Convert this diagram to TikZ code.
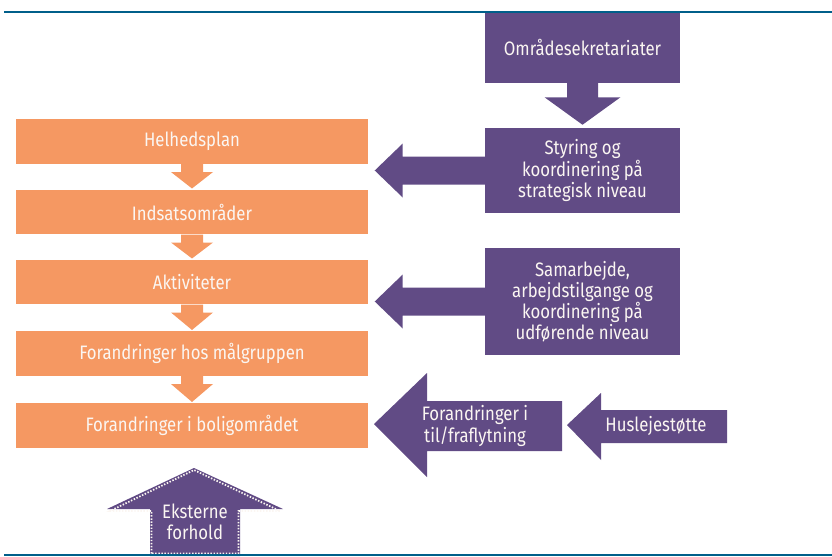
\documentclass[tikz,border=0pt]{standalone}
\usepackage{fontspec}
\setmainfont{Fira Sans}[FakeStretch=0.86]
\usetikzlibrary{calc}
\definecolor{org}{HTML}{F59862}
\definecolor{pur}{HTML}{614B85}
\definecolor{lineblue}{HTML}{005F8A}
\definecolor{txt}{HTML}{FBF6F2}
\newcommand\dnarr[6]{% from, to, stem half, head half, stem length, colour
  \fill[#6] ($(#1.south)+(-#3,0)$) -- ($(#1.south)+(-#3,#5)$) -- ($(#1.south)+(-#4,#5)$)
    -- ($(#2.north)+(0,-1)$) -- ($(#1.south)+(#4,#5)$) -- ($(#1.south)+(#3,#5)$)
    -- ($(#1.south)+(#3,0)$) -- cycle;}
\newcommand\ltarr[1]{% purple arrow leaving a box to the left
  \fill[pur] ($(#1.west)+(0.5,-14)$) -- ($(#1.west)+(-82,-14)$) -- ($(#1.west)+(-82,-27)$)
    -- ($(#1.west)+(-110,0)$) -- ($(#1.west)+(-82,27)$) -- ($(#1.west)+(-82,14)$)
    -- ($(#1.west)+(0.5,14)$) -- cycle;}
\begin{document}
\begin{tikzpicture}[x=0.75pt,y=-0.75pt,
  lbl/.style={text=txt, align=center, inner sep=0pt,
    font=\fontsize{14.6}{15.8}\selectfont},
  obox/.style={lbl, fill=org, minimum width=264pt, minimum height=33.4pt},
  pbox/.style={lbl, fill=pur, minimum width=146.25pt},
  rule/.style={draw=lineblue, line width=1.6pt},
  dots/.style={draw=txt, line width=1.3pt, dash pattern=on 1.1pt off 1.2pt}]
\useasboundingbox (0,0) rectangle (832,557);

% orange chain
\node[obox] (helhed) at (192,141.5) {Helhedsplan};
\node[obox] (indsats) at (192,212) {Indsatsområder};
\node[obox] (aktiv) at (192,282) {Aktiviteter};
\node[obox] (maal) at (192,353.5) {Forandringer hos målgruppen};
\node[obox] (bolig) at (192,425.5) {Forandringer i boligområdet};
\dnarr{helhed}{indsats}{11}{21}{8}{org}
\dnarr{indsats}{aktiv}{11}{21}{8}{org}
\dnarr{aktiv}{maal}{11}{21}{8}{org}
\dnarr{maal}{bolig}{11}{21}{8}{org}

% purple boxes
\node[pbox, minimum height=53.25pt] (omr) at (582.5,47.5) {Områdesekretariater};
\node[pbox, minimum height=63.75pt] (styr) at (582.5,170.5) {Styring og\\koordinering på\\strategisk niveau};
\node[pbox, minimum height=80.25pt] (samar) at (582.5,301.5) {Samarbejde,\\arbejdstilgange og\\koordinering på\\udførende niveau};
\fill[pur] ($(omr.south)+(-15.5,-0.5)$) -- ($(omr.south)+(-15.5,14)$) -- ($(omr.south)+(-38,14)$)
  -- ($(styr.north)+(0,-3)$) -- ($(omr.south)+(38,14)$) -- ($(omr.south)+(15.5,14)$)
  -- ($(omr.south)+(15.5,-0.5)$) -- cycle;
\ltarr{styr}
\ltarr{samar}

% flow arrows at the bottom right
\fill[pur] (562,401) -- (427,401) -- (427,373) -- (374,424) -- (427,477) -- (427,451) -- (562,451) -- cycle;
\node[lbl] (flyt) at (475,426) {Forandringer i\\til/fraflytning};
\fill[pur] (727,410) -- (601,410) -- (601,393) -- (567,425) -- (601,460) -- (601,443) -- (727,443) -- cycle;
\node[lbl] (husl) at (656,426) {Huslejestøtte};

% external conditions
\fill[pur] (150,556) -- (150,509) -- (107,509) -- (194,468) -- (283,509) -- (240,509) -- (240,556) -- cycle;
\draw[dots] (151.5,553.5) -- (151.5,511) -- (110,511) -- (194,470) -- (280,511) -- (238.5,511) -- (238.5,553.5) -- cycle;
\node[lbl] (ekst) at (195,522) {Eksterne\\forhold};

% rules
\draw[rule] (4,12) -- (832,12);
\draw[rule] (4,555) -- (832,555);
\end{tikzpicture}
\end{document}
